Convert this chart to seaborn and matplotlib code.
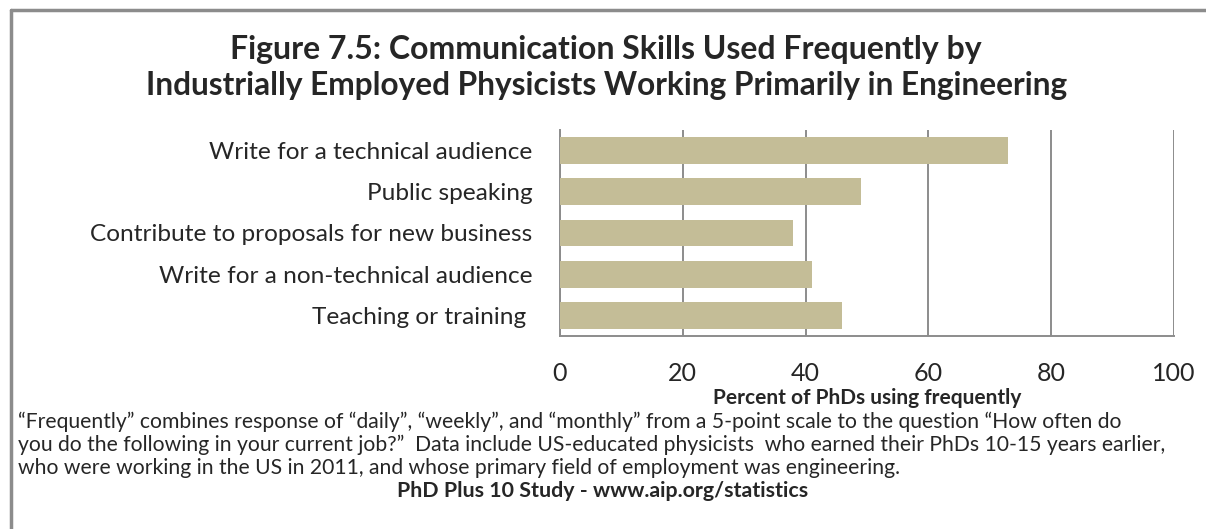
import pandas as pd
import seaborn as sns
import matplotlib.pyplot as plt

# survey categories and percent of PhDs using the skill frequently
skills = ['Write for a technical audience', 'Public speaking',
          'Contribute to proposals for new business',
          'Write for a non-technical audience', 'Teaching or training ']
percents = [73, 49, 38, 41, 46]
xticks = [0, 20, 40, 60, 80, 100]

df = pd.DataFrame({'skill': skills, 'percent': percents})

sns.set_theme(style='white')
plt.rcParams['font.family'] = ['Lato', 'DejaVu Sans']

fig = plt.figure(figsize=(12.06, 5.29), dpi=100)
ax = fig.add_axes([0.4643, 0.3648, 0.5092, 0.3895])

sns.barplot(data=df, y='skill', x='percent', color='#C4BD97', width=0.65,
            saturation=1, edgecolor='none', ax=ax, zorder=3)

ax.set_xlim(0, 100)
ax.set_xticks(xticks)
ax.set_xticklabels([str(t) for t in xticks], fontsize=18)
ax.tick_params(axis='x', pad=19, length=0)
ax.tick_params(axis='y', pad=20, length=0, labelsize=17.6)
ax.xaxis.grid(True, color='#8c8c8c', linewidth=1.4, zorder=0)
ax.yaxis.grid(False)
for s in ['top', 'right']:
    ax.spines[s].set_visible(False)
for s in ['left', 'bottom']:
    ax.spines[s].set_color('#8c8c8c')
    ax.spines[s].set_linewidth(1.4)
ax.set_ylabel('')
ax.set_xlabel('Percent of PhDs using frequently', fontsize=15, fontweight='bold',
              labelpad=2)

# title
fig.text(0.502, 1 - 50 / 529, 'Figure 7.5: Communication Skills Used Frequently by',
         ha='center', va='center', fontsize=23, fontweight='bold')
fig.text(0.503, 1 - 86 / 529, 'Industrially Employed Physicists Working Primarily in Engineering',
         ha='center', va='center', fontsize=22.8, fontweight='bold')

# footnotes
notes = ['\u201cFrequently\u201d combines response of \u201cdaily\u201d, \u201cweekly\u201d, and \u201cmonthly\u201d from a 5-point scale to the question \u201cHow often do',
         'you do the following in your current job?\u201d  Data include US-educated physicists  who earned their PhDs 10-15 years earlier,',
         'who were working in the US in 2011, and whose primary field of employment was engineering.']
for i, line in enumerate(notes):
    fig.text(0.015, 1 - (422 + 23 * i) / 529, line, ha='left', va='center', fontsize=15.2)
fig.text(0.5, 1 - 491 / 529, 'PhD Plus 10 Study - www.aip.org/statistics',
         ha='center', va='center', fontsize=15.4, fontweight='bold')

# partial frame around the figure
fig.add_artist(plt.Line2D([10.5 / 1206, 10.5 / 1206], [0, 1 - 9.5 / 529],
                          color='#8c8c8c', linewidth=2.5, transform=fig.transFigure))
fig.add_artist(plt.Line2D([10.5 / 1206, 1], [1 - 9.5 / 529, 1 - 9.5 / 529],
                          color='#8c8c8c', linewidth=2.5, transform=fig.transFigure))

fig.savefig('out.png', dpi=100, facecolor='white')
